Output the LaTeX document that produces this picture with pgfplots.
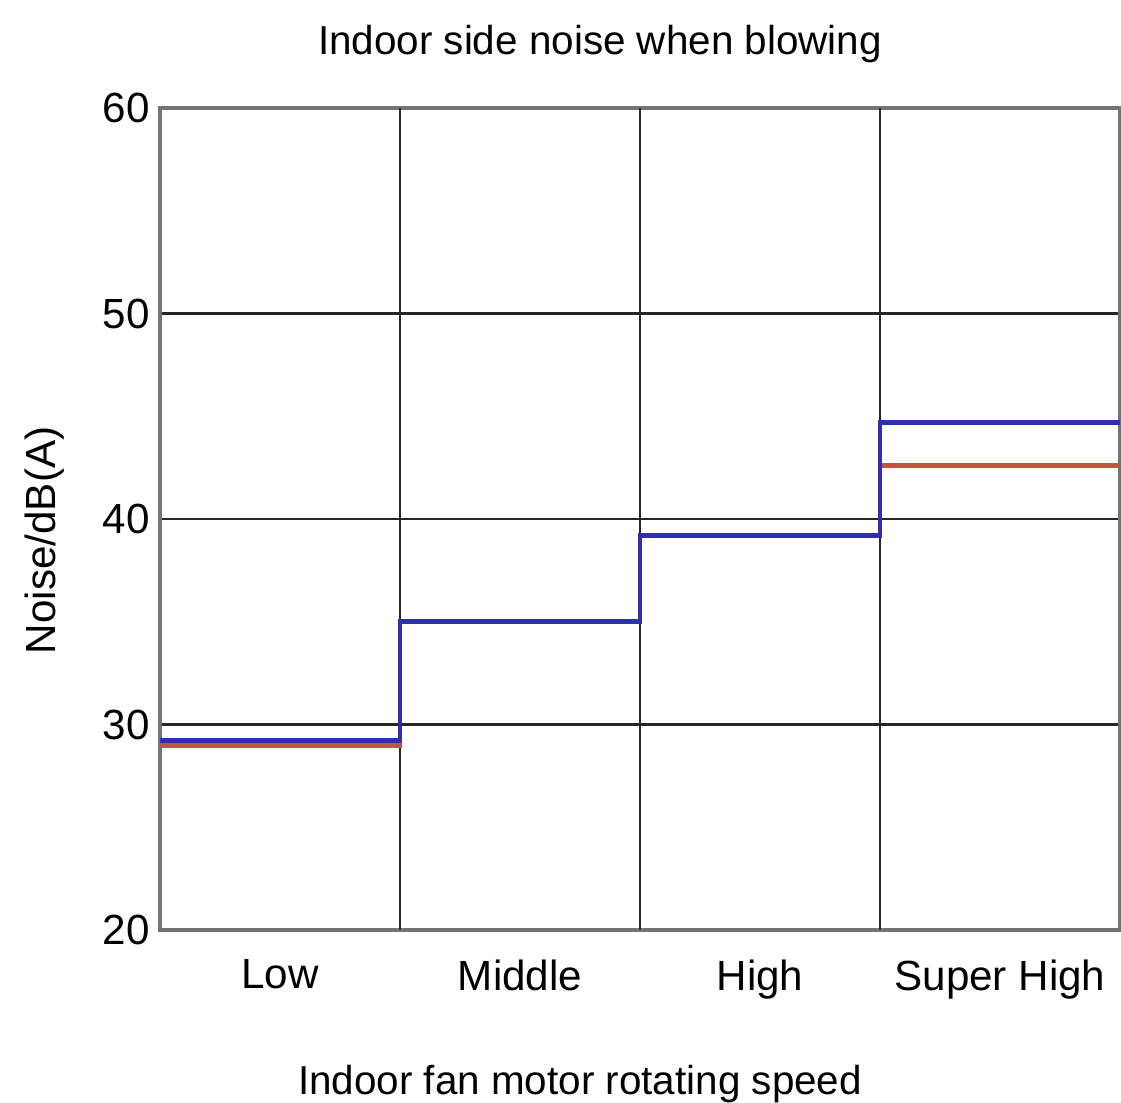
\documentclass[border=0pt]{standalone}
\usepackage{pgfplots}
\pgfplotsset{compat=1.18}
\usepackage{fontspec}
\setmainfont{Liberation Sans}

\definecolor{lineblue}{RGB}{45,50,165}
\definecolor{linered}{RGB}{195,85,60}
\definecolor{framegray}{RGB}{115,115,115}

\begin{document}
\begin{tikzpicture}
  \begin{axis}[
    name=ax,
    scale only axis,
    width=9.6cm,
    height=8.22cm,
    xmin=0, xmax=4,
    ymin=20, ymax=60,
    ytick={20,30,40,50,60},
    xtick={0.5,1.5,2.5,3.5},
    xticklabels={Low, Middle, High, Super High},
    extra x ticks={1,2,3},
    extra x tick labels={},
    extra x tick style={grid=major},
    ymajorgrids,
    major tick length=0pt,
    grid style={black!85, line width=0.6pt},
    axis line style={framegray, line width=0.9pt},
    tick label style={font=\fontsize{12}{14}\selectfont},
    /pgf/number format/assume math mode=true,
    xticklabel style={yshift=-0.17cm},
    yticklabel style={xshift=0.02cm},
    xlabel={Indoor fan motor rotating speed},
    xlabel style={font=\fontsize{11.5}{14}\selectfont, yshift=-0.42cm, xshift=-0.6cm},
    ylabel={Noise/dB(A)},
    ylabel style={font=\fontsize{12}{14}\selectfont, at={(ticklabel cs:0.474,4pt)}},
    title={Indoor side noise when blowing},
    title style={font=\fontsize{11.5}{14}\selectfont, yshift=0.12cm, xshift=-0.4cm},
    clip=false,
  ]

  % red series (drawn first, blue overlays it where equal)
  \addplot[const plot, linered, line width=1.4pt] coordinates {
    (0,29.0) (1,35.0) (2,39.2) (3,42.6) (4,42.6)
  };

  % blue series
  \addplot[const plot, lineblue, line width=1.4pt] coordinates {
    (0,29.2) (1,35.0) (2,39.2) (3,44.7) (4,44.7)
  };

  \end{axis}
  \pgfresetboundingbox
  \path (ax.south west) ++(-1.6cm,-1.72cm) rectangle ([shift={(0.01cm,1.08cm)}]ax.north east);
\end{tikzpicture}
\end{document}
